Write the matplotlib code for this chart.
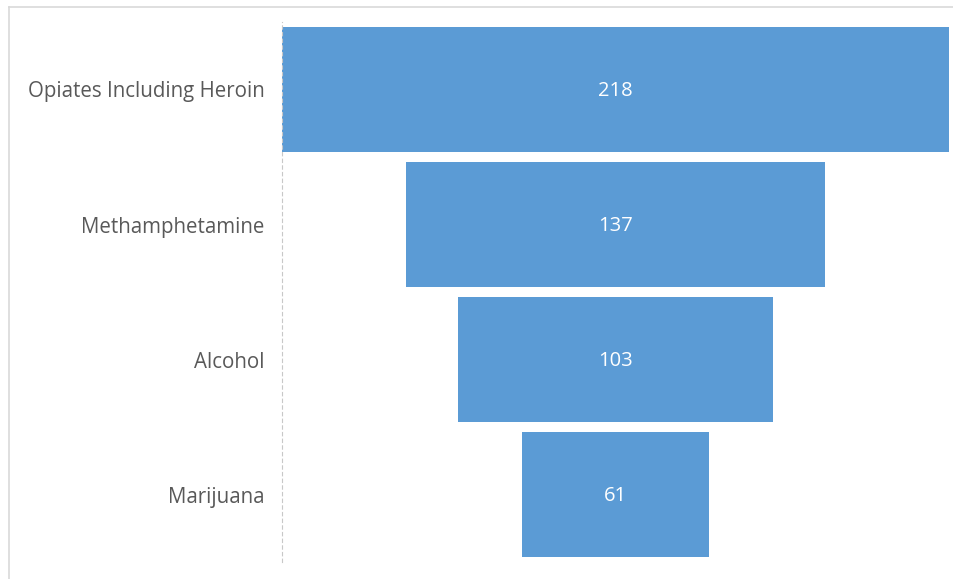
import matplotlib.pyplot as plt
from matplotlib.lines import Line2D

categories = ["Opiates Including Heroin", "Methamphetamine", "Alcohol", "Marijuana"]
values = [218, 137, 103, 61]

BAR_COLOR = "#5B9BD5"
TEXT_COLOR = "#595959"

plt.rcParams["font.family"] = ["Open Sans", "DejaVu Sans"]

fig = plt.figure(figsize=(9.54, 5.79), dpi=100)
W, H = 954, 579

# axes placed in pixel terms: left 282, right 949, top 22, bottom 562
ax = fig.add_axes([282 / W, 1 - 562 / H, (949 - 282) / W, (562 - 22) / H])

pos = list(range(len(categories)))
lefts = [-v / 2 for v in values]
ax.barh(pos, values, left=lefts, height=0.926, color=BAR_COLOR)

for p, v in zip(pos, values):
    ax.text(0, p + 0.01, str(v), ha="center", va="center", color="white", fontsize=14.5)

ax.set_xlim(-max(values) / 2, max(values) / 2)
ax.set_ylim(len(categories) - 0.5, -0.5)
ax.set_yticks(pos)
ax.set_yticklabels(categories, color=TEXT_COLOR, fontsize=14.8)
ax.tick_params(axis="y", length=0, pad=12.5)
ax.set_xticks([])

for s in ["top", "right", "bottom"]:
    ax.spines[s].set_visible(False)
ax.spines["left"].set_color("#C8C8C8")
ax.spines["left"].set_linestyle((0, (3, 3)))
ax.spines["left"].set_linewidth(0.8)

# outer chart border (partially cropped in the reference)
fig.add_artist(Line2D([9.5 / W, 1], [1 - 6.5 / H, 1 - 6.5 / H], color="#D9D9D9", lw=1.2,
                      transform=fig.transFigure))
fig.add_artist(Line2D([9.5 / W, 9.5 / W], [0, 1 - 6.5 / H], color="#D9D9D9", lw=1.2,
                      transform=fig.transFigure))

fig.savefig("out.png", dpi=100, facecolor="white")
